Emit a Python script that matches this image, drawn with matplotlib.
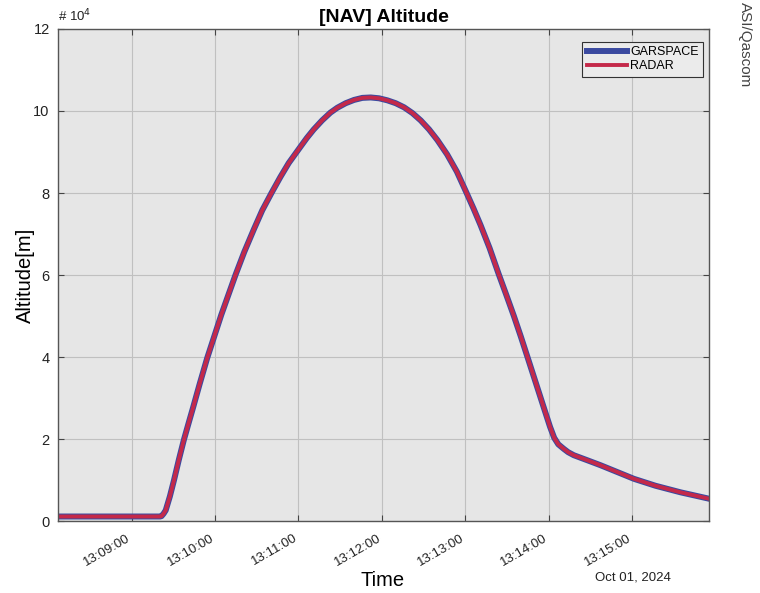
import numpy as np
import pandas as pd
import matplotlib
matplotlib.use('Agg')
import matplotlib.pyplot as plt
import matplotlib.dates as mdates
from matplotlib.ticker import FuncFormatter
from matplotlib.transforms import ScaledTranslation

plt.rcParams['font.family'] = ['Liberation Sans', 'DejaVu Sans']

# 读取的数据点（时间, 高度[m]）
times = ["13:08:07.0", "13:09:20.5", "13:09:21.5", "13:09:23.0", "13:09:24.5",
         "13:09:27.5", "13:09:30.5", "13:09:34.0", "13:09:37.5", "13:09:41.0",
         "13:09:44.3", "13:09:49.0", "13:09:54.4", "13:10:04.5", "13:10:14.7",
         "13:10:21.0", "13:10:28.0", "13:10:34.0", "13:10:40.6", "13:10:47.0",
         "13:10:53.0", "13:11:01.5", "13:11:06.0", "13:11:11.0", "13:11:17.0",
         "13:11:23.0", "13:11:28.0", "13:11:34.0", "13:11:40.0", "13:11:46.0",
         "13:11:52.0", "13:11:58.0", "13:12:04.0", "13:12:10.0", "13:12:16.0",
         "13:12:22.0", "13:12:28.0", "13:12:34.0", "13:12:40.0", "13:12:47.0",
         "13:12:54.0", "13:13:01.0", "13:13:06.0", "13:13:11.0", "13:13:17.5",
         "13:13:24.0", "13:13:29.5", "13:13:35.0", "13:13:40.0", "13:13:44.6",
         "13:13:50.6", "13:13:56.5", "13:14:01.0", "13:14:04.0", "13:14:07.0",
         "13:14:10.9", "13:14:14.0", "13:14:18.1", "13:14:28.0", "13:14:37.4",
         "13:14:49.0", "13:15:01.3", "13:15:16.9", "13:15:34.9", "13:15:55.4"]
altitude = [1100, 1100, 1200, 1800, 2600,
            6000, 10000, 15000, 19700, 23900,
            27800, 33500, 39800, 50300, 60000,
            65600, 71200, 75800, 80000, 83900,
            87300, 91300, 93400, 95500, 97700,
            99600, 100800, 101900, 102700, 103200,
            103300, 103100, 102600, 101900, 100900,
            99500, 97700, 95500, 92900, 89400,
            85200, 80000, 76200, 72200, 66600,
            60300, 55200, 50000, 45000, 40200,
            33900, 27700, 23000, 20300, 18700,
            17600, 16800, 16050, 14800, 13600,
            12000, 10300, 8600, 7000, 5440]
tick_times = ["13:09:00", "13:10:00", "13:11:00", "13:12:00",
              "13:13:00", "13:14:00", "13:15:00"]
date_str = "2024-10-01"

t = pd.to_datetime([f"{date_str} {s}" for s in times])
ticks = pd.to_datetime([f"{date_str} {s}" for s in tick_times])

fig = plt.figure(figsize=(7.6, 5.93), dpi=100)
ax = fig.add_axes([0.0763, 0.1214, 0.8566, 0.8297])
ax.set_facecolor('#e6e6e6')

ax.plot(t, altitude, color='#3b4aa0', linewidth=4.3, label='GARSPACE')
ax.plot(t, altitude, color='#c4294a', linewidth=2.8, label='RADAR')

ax.set_xlim(t[0], t[-1])
ax.set_ylim(0, 12e4)
ax.set_yticks(np.arange(0, 12.1e4, 2e4))
ax.yaxis.set_major_formatter(FuncFormatter(lambda v, p: f"{v / 1e4:g}"))
ax.set_xticks(ticks)
ax.xaxis.set_major_formatter(mdates.DateFormatter('%H:%M:%S'))

ax.grid(True, color='#c0c0c0', linewidth=0.8)
ax.set_axisbelow(True)
ax.tick_params(direction='in', length=4, width=0.8, color='#444444',
               top=True, right=True, labelcolor='#222222')
ax.tick_params(axis='x', labelsize=9.5, pad=8)
ax.tick_params(axis='y', labelsize=10.5, pad=6)
shift = ScaledTranslation(-5 / 100, 0, fig.dpi_scale_trans)
for lab in ax.get_xticklabels():
    lab.set_rotation(30)
    lab.set_ha('right')
    lab.set_rotation_mode('anchor')
    lab.set_transform(lab.get_transform() + shift)
for sp in ax.spines.values():
    sp.set_color('#555555')
    sp.set_linewidth(1.0)

ax.set_title('[NAV] Altitude', fontsize=14, fontweight='bold', pad=5)
ax.set_ylabel('Altitude[m]', fontsize=14.5)
ax.yaxis.set_label_coords(-0.036, 0.5)
fig.text(383 / 760, 1 - 581 / 593, 'Time', fontsize=14.5,
         ha='center', va='center')

ax.text(0.0, 1.01, '# 10$^{4}$', transform=ax.transAxes, fontsize=9.5,
        ha='left', va='bottom', color='#222222')
fig.text(633 / 760, 1 - 578 / 593, 'Oct 01, 2024', fontsize=9.5,
         ha='center', va='center', color='#222222')
fig.text(745 / 760, 1 - 45 / 593, 'ASI/Qascom', rotation=270, fontsize=11,
         ha='center', va='center', color='#444444',
         family=['Liberation Sans Narrow', 'Liberation Sans', 'DejaVu Sans'])

leg = ax.legend(loc='upper right', bbox_to_anchor=(0.991, 0.9736), fontsize=9,
                handlelength=3.2, handletextpad=0.3, borderpad=0.35,
                borderaxespad=0, labelspacing=0.15, fancybox=False,
                framealpha=1, facecolor='#ebebeb', edgecolor='#333333')
leg.get_frame().set_linewidth(0.8)

plt.savefig('out.png', dpi=100)
